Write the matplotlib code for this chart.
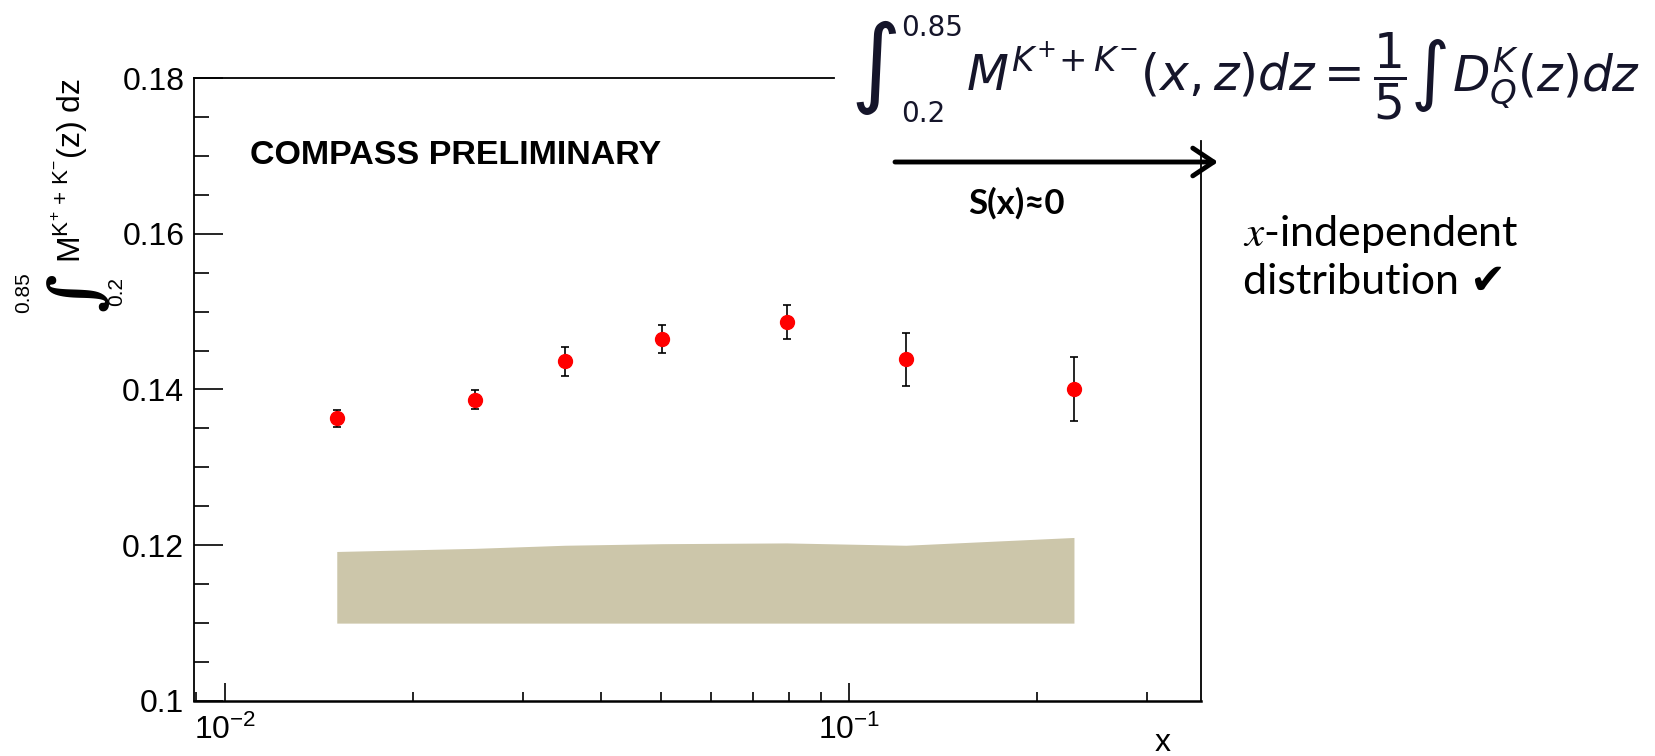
import matplotlib
matplotlib.use('Agg')
import matplotlib.pyplot as plt
from matplotlib.ticker import MultipleLocator, LogLocator, NullFormatter, FuncFormatter

# data
x_vals = [0.0151, 0.0251, 0.0350, 0.0501, 0.0793, 0.1231, 0.2288]
m_vals = [0.1363, 0.1387, 0.1436, 0.1465, 0.1487, 0.1439, 0.1401]
m_errs = [0.0011, 0.0012, 0.0019, 0.0018, 0.0022, 0.0034, 0.0041]

# systematic band
band_lo = [0.1100, 0.1100, 0.1100, 0.1100, 0.1100, 0.1100, 0.1100]
band_hi = [0.1192, 0.1196, 0.1200, 0.1202, 0.1203, 0.1200, 0.1210]

y_ticks = [0.1, 0.12, 0.14, 0.16, 0.18]

plt.rcParams['mathtext.fontset'] = 'custom'
plt.rcParams['mathtext.rm'] = 'Liberation Sans'
plt.rcParams['mathtext.it'] = 'Liberation Sans:italic'
plt.rcParams['mathtext.bf'] = 'Liberation Sans:bold'
plt.rcParams['font.family'] = ['Liberation Sans', 'DejaVu Sans']

W, H = 1656, 756
fig = plt.figure(figsize=(W/100, H/100), dpi=100)
ax = fig.add_axes([194/W, 1-701/H, (1201-194)/W, (701-78)/H])

ax.fill_between(x_vals, band_lo, band_hi, color='#ccc6aa', lw=0, zorder=1)
ax.errorbar(x_vals, m_vals, yerr=m_errs, fmt='o', color='red', ms=10,
            ecolor='black', elinewidth=1.2, capsize=3, capthick=1.2, zorder=3)

ax.set_xscale('log')
ax.set_xlim(0.00892, 0.3655)
ax.set_ylim(0.1, 0.18)

ax.set_yticks(y_ticks)
ax.yaxis.set_minor_locator(MultipleLocator(0.005))
ax.yaxis.set_major_formatter(FuncFormatter(lambda v, p: '%g' % v))
ax.xaxis.set_minor_locator(LogLocator(base=10, subs=range(2, 10)))
ax.xaxis.set_minor_formatter(NullFormatter())

ax.tick_params(axis='both', which='both', direction='in', top=False, right=False, labelsize=23)
ax.tick_params(axis='y', which='major', length=21, width=1.2, pad=7)
ax.tick_params(axis='y', which='minor', length=11, width=1.2)
ax.tick_params(axis='x', which='major', length=13, width=1.2, pad=10)
ax.tick_params(axis='x', which='minor', length=6.5, width=1.2)

for s in ax.spines.values():
    s.set_linewidth(1.3)
ax.spines['bottom'].set_linewidth(1.8)
# the formula box hides the upper right part of the frame
ax.spines['top'].set_bounds(0.00892, 0.0944)
ax.spines['right'].set_bounds(0.1, 0.1719)

# y title, ROOT style: limits beside a big integral sign
fig.text(70/W, 1-263/H,
         r'$\mathrm{M}^{\mathrm{K}^{+}\/+\/\mathrm{K}^{-}}\mathrm{(z)\ dz}$',
         rotation=90, ha='center', va='bottom', fontsize=23)
fig.text(78/W, 1-292/H, '∫', rotation=90, ha='center', va='center',
         fontsize=48, family='DejaVu Serif', fontweight='bold')
fig.text(24/W, 1-293/H, '0.85', rotation=90, ha='center', va='center', fontsize=15)
fig.text(117/W, 1-292/H, '0.2', rotation=90, ha='center', va='center', fontsize=15)

fig.text(1163/W, 1-743/H, 'x', ha='center', va='center', fontsize=23)

fig.text(250/W, 1-156/H, 'COMPASS PRELIMINARY', ha='left', va='center',
         fontsize=24.5, fontweight='bold')

# formula at the top right, built from pieces so the integral signs can be tall
rend = fig.canvas.get_renderer()
ink = '#15152a'
base = 1 - 90/H
int1 = fig.text(850/W, 1-68/H, '∫', ha='left', va='center', fontsize=70,
                color=ink, family='DejaVu Sans')
b = int1.get_window_extent(rend)
up = fig.text(b.x1/W + 1/W, 1-28/H, '0.85', ha='left', va='center', fontsize=20,
              color=ink, family='DejaVu Sans')
fig.text(b.x1/W + 1/W, 1-114/H, '0.2', ha='left', va='center', fontsize=20,
         color=ink, family='DejaVu Sans')
b = up.get_window_extent(rend)
partA = fig.text(b.x1/W + 3/W, base, r'$M^{K^{+}\!+K^{-}}(x,z)dz = \dfrac{1}{5}$',
                 ha='left', va='baseline', fontsize=35, color=ink,
                 math_fontfamily='dejavusans')
b = partA.get_window_extent(rend)
int2 = fig.text(b.x1/W + 4/W, 1-76/H, '∫', ha='left', va='center', fontsize=54,
                color=ink, family='DejaVu Sans')
b = int2.get_window_extent(rend)
fig.text(b.x1/W + 2/W, base, r'$D_Q^K(z)dz$', ha='left', va='baseline',
         fontsize=35, color=ink, math_fontfamily='dejavusans')

ax.annotate('', xy=(1218, H-162), xytext=(895, H-162),
            xycoords='figure pixels', textcoords='figure pixels', annotation_clip=False,
            arrowprops=dict(arrowstyle='->,head_length=0.75,head_width=0.5', lw=3.5,
                            color='black', shrinkA=0, shrinkB=0, mutation_scale=20))
fig.text(1016/W, 1-203/H, 'S(x)≈0', ha='center', va='center', fontsize=25,
         fontweight='bold', family=['Lato', 'DejaVu Sans'])

fig.text(1243/W, 1-234/H, r'$x$-independent', ha='left', va='center', fontsize=31,
         family=['Lato', 'DejaVu Sans'], math_fontfamily='stix')
fig.text(1243/W, 1-282/H, 'distribution ✔', ha='left', va='center', fontsize=31,
         family=['Lato', 'DejaVu Sans'])

fig.savefig('out.png', dpi=100)
